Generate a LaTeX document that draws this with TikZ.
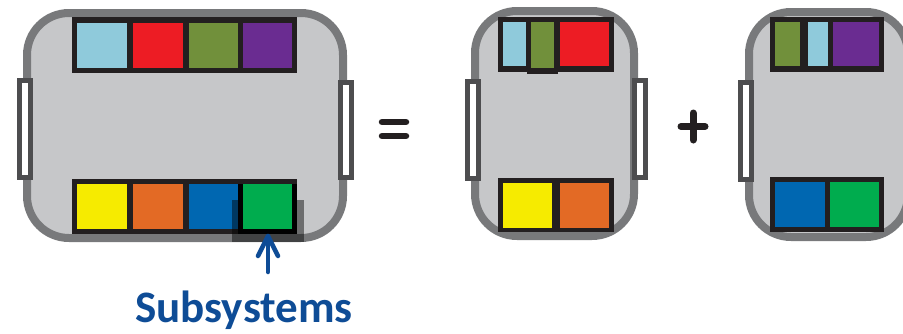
\documentclass[tikz,border=0pt]{standalone}
\usepackage{fontspec}
\setmainfont{Carlito}
\definecolor{boxfill}{HTML}{C6C7C9}
\definecolor{boxedge}{HTML}{78797B}
\definecolor{handle}{HTML}{4D4D4F}
\definecolor{strip}{HTML}{231F20}
\definecolor{cLB}{HTML}{8FCADB}
\definecolor{cRD}{HTML}{ED1C24}
\definecolor{cOL}{HTML}{71903B}
\definecolor{cPU}{HTML}{6A2C91}
\definecolor{cYE}{HTML}{F6EB00}
\definecolor{cOR}{HTML}{E36A25}
\definecolor{cBL}{HTML}{0067B1}
\definecolor{cGR}{HTML}{00AC4E}
\definecolor{subblue}{HTML}{0E4C96}
\tikzset{
  cart/.style={fill=boxfill, draw=boxedge, line width=8pt, rounded corners=42pt},
  grip/.style={fill=white, draw=handle, line width=5pt},
  stripbox/.style={fill=strip},
  opsign/.style={draw=strip, line width=6.5pt, line cap=round},
  pointer/.style={draw=subblue, line width=4.5pt, line cap=round, line join=round},
}
\begin{document}
\begin{tikzpicture}[x=1pt,y=-1pt]
\useasboundingbox (0,0) rectangle (903,333);
\clip (0,0) rectangle (903,333);
% ---------- big cart ----------
\draw[cart] (27,13) rectangle (343,238);
\draw[grip] (19.5,80.5) rectangle (30.5,177.5);
\draw[grip] (340.5,82.5) rectangle (351.5,177.5);
\fill[stripbox] (72,17) rectangle (297,73);
\fill[cLB] (77,23) rectangle (127,68);
\fill[cRD] (133,23) rectangle (183,68);
\fill[cOL] (189,23) rectangle (238,68);
\fill[cPU] (243,23) rectangle (292,68);
\fill[stripbox] (72,179) rectangle (297,234);
\fill[cYE] (77,184) rectangle (127,229);
\fill[cOR] (133,184) rectangle (183,229);
\fill[cBL] (189,184) rectangle (238,229);
\fill[black, opacity=0.45] (232,200) rectangle (304,242);
\fill[black] (238,184) rectangle (297,234);
\fill[cGR] (243,184) rectangle (292,229);
% ---------- equals ----------
\coordinate (eqL1) at (382,122); \coordinate (eqR1) at (406,122);
\coordinate (eqL2) at (382,136); \coordinate (eqR2) at (406,136);
\draw[opsign] (eqL1) -- (eqR1);
\draw[opsign] (eqL2) -- (eqR2);
% ---------- middle cart ----------
\draw[cart] (475,11) rectangle (634,236);
\draw[grip] (467.5,81.5) rectangle (478.5,178.5);
\draw[grip] (634.5,80.5) rectangle (645.5,177.5);
\fill[stripbox] (498,17) rectangle (614,72);
\fill[cLB] (503,22) rectangle (526,66);
\fill[stripbox] (527,17) rectangle (558,74);
\fill[cOL] (531,22) rectangle (554,68);
\fill[cRD] (560,22) rectangle (609,66);
\fill[stripbox] (498,178) rectangle (614,232);
\fill[cYE] (503,183) rectangle (552,228);
\fill[cOR] (560,183) rectangle (609,228);
% ---------- plus ----------
\coordinate (plL) at (681,126.5); \coordinate (plR) at (705,126.5);
\coordinate (plT) at (693,113); \coordinate (plB) at (693,140);
\draw[opsign, line width=7pt] (plL) -- (plR);
\draw[opsign, line width=7pt] (plT) -- (plB);
% ---------- right cart ----------
\draw[cart] (749,12) rectangle (908,237);
\draw[grip] (740.5,82.5) rectangle (751.5,179.5);
\fill[stripbox] (770,17) rectangle (884,72);
\fill[cOL] (775,22) rectangle (800,66);
\fill[cLB] (808,22) rectangle (828,66);
\fill[cPU] (833,22) rectangle (879,66);
\fill[stripbox] (770,177) rectangle (884,232);
\fill[cBL] (775,182) rectangle (825,227);
\fill[cGR] (830,182) rectangle (879,227);
% ---------- label and arrow ----------
\node[font=\bfseries\fontsize{45}{52}\selectfont, text=subblue, anchor=base, inner sep=0] (lbl) at (244,322) {Subsystems};
\coordinate (tail) at (268,272);
\coordinate (tip) at (268,236);
\coordinate (barbL) at (258,256);
\coordinate (barbR) at (278,256);
\draw[pointer] (tail) -- (tip);
\draw[pointer] (barbL) -- (tip) -- (barbR);
\end{tikzpicture}
\end{document}
